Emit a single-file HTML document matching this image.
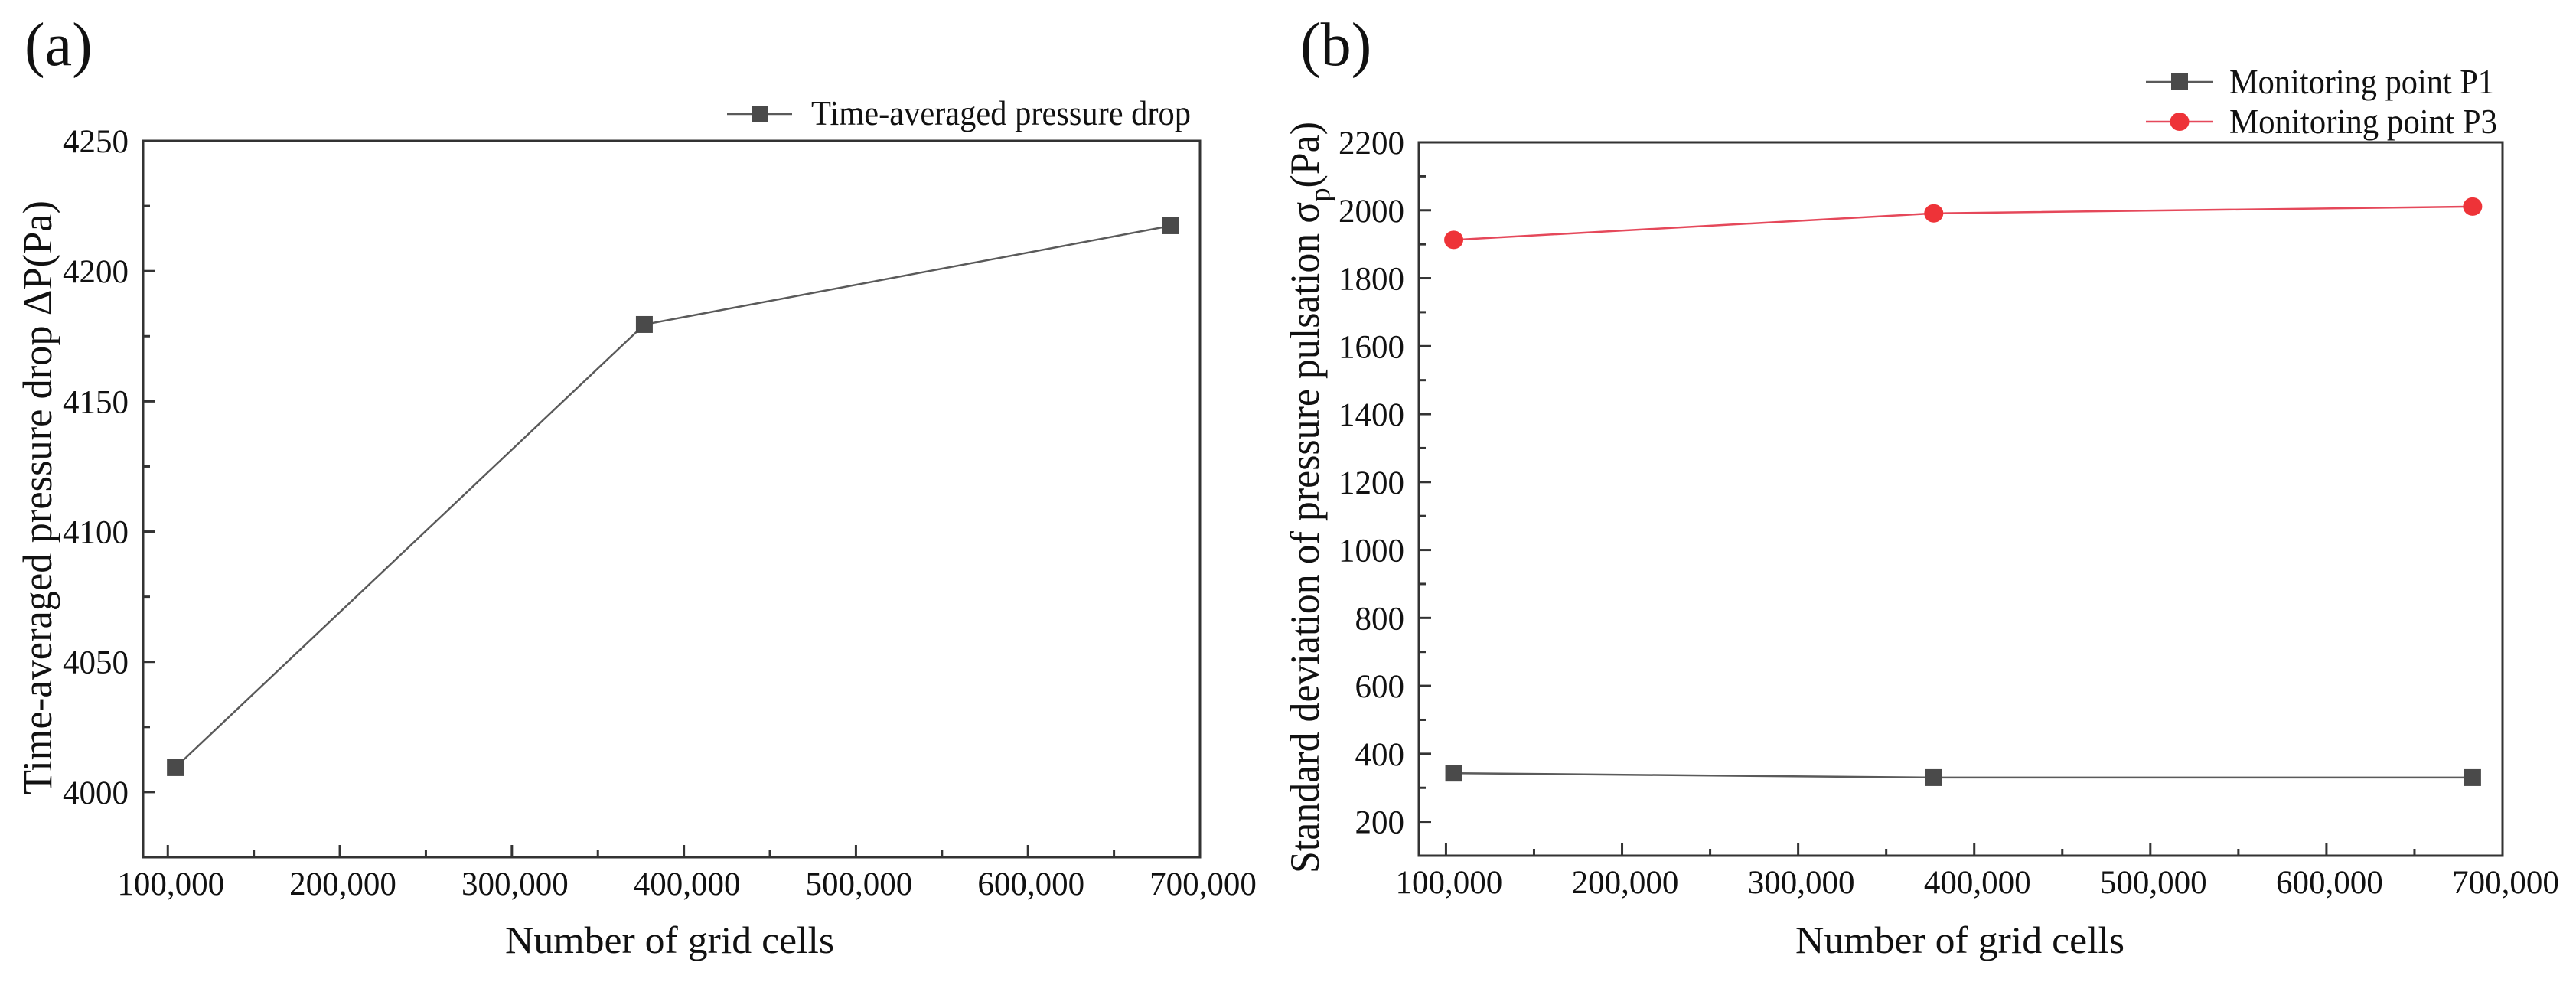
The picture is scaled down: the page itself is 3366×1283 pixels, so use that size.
<!DOCTYPE html>
<html><head><meta charset="utf-8"><style>
html,body{margin:0;padding:0;background:#fff;}
svg{display:block;font-family:"Liberation Serif",serif;}
</style></head><body>
<svg id="fig" width="3366" height="1283" viewBox="0 0 3366 1283" xmlns="http://www.w3.org/2000/svg">
<rect width="3366" height="1283" fill="#fff"/>
<g id="pa"></g>
<g id="pb"></g>
</svg>
<script>
const xCells = [104400, 377000, 683000];
const aPressureDrop = [4009.4, 4179.5, 4217.4];
const bP1 = [343, 330, 330];
const bP3 = [1913, 1991, 2011];
const xTicks = [100000, 200000, 300000, 400000, 500000, 600000, 700000];
const xTickLabels = ["100,000","200,000","300,000","400,000","500,000","600,000","700,000"];
const aYTicks = [4000, 4050, 4100, 4150, 4200, 4250];
const aYTickLabels = ["4000","4050","4100","4150","4200","4250"];
const bYTicks = [200,400,600,800,1000,1200,1400,1600,1800,2000,2200];
const bYTickLabels = ["200","400","600","800","1000","1200","1400","1600","1800","2000","2200"];

const NS = "http://www.w3.org/2000/svg";
function mk(parent, tag, attrs, text) {
  const e = document.createElementNS(NS, tag);
  for (const k in attrs) e.setAttribute(k, attrs[k]);
  if (text !== undefined) e.textContent = text;
  parent.appendChild(e);
  return e;
}
function lin(d0, d1, r0, r1) { return v => r0 + (v - d0) / (d1 - d0) * (r1 - r0); }

function drawAxes(g, box, sx, sy, yTicks, yLabels, xMinorStep, yMinorStep, xdom, ydom) {
  const ax = "#333";
  // frame
  const fr = mk(g, "rect", {x: box.l, y: box.t, width: box.r - box.l, height: box.b - box.t, fill: "none", stroke: ax, "stroke-width": 3});
  
  
  // x ticks
  xTicks.forEach((v, i) => {
    const x = sx(v);
    const t = mk(g, "line", {x1: x, x2: x, y1: box.b, y2: box.b - 16, stroke: ax, "stroke-width": 3});
    
    
    const lb = mk(g, "text", {x: x + 4, y: box.b + 49, "font-size": 43, "text-anchor": "middle", fill: "#111"}, xTickLabels[i]);
    
    
  });
  for (let v = xTicks[0] + xMinorStep; v < xdom[1]; v += 2 * xMinorStep) {
    const x = sx(v);
    const t = mk(g, "line", {x1: x, x2: x, y1: box.b, y2: box.b - 9, stroke: ax, "stroke-width": 3});
    
    
  }
  yTicks.forEach((v, i) => {
    const y = sy(v);
    const t = mk(g, "line", {x1: box.l, x2: box.l + 16, y1: y, y2: y, stroke: ax, "stroke-width": 3});
    
    
    const lb = mk(g, "text", {x: box.l - 19, y: y + 15, "font-size": 43, "text-anchor": "end", fill: "#111"}, yLabels[i]);
    
    
  });
  for (let v = yTicks[0] - yMinorStep; v < ydom[1]; v += 2 * yMinorStep) {
    if (v <= ydom[0]) continue;
    const y = sy(v);
    const t = mk(g, "line", {x1: box.l, x2: box.l + 9, y1: y, y2: y, stroke: ax, "stroke-width": 3});
    
    
  }
}

function series(g, sx, sy, ys, color, lineColor, shape, name) {
  const pts = xCells.map((x, i) => sx(x).toFixed(1) + "," + sy(ys[i]).toFixed(1)).join(" ");
  const pl = mk(g, "polyline", {points: pts, fill: "none", stroke: lineColor, "stroke-width": 2.5});
  
  
  xCells.forEach((x, i) => {
    let m;
    if (shape === "square") m = mk(g, "rect", {x: sx(x) - 11, y: sy(ys[i]) - 11, width: 22, height: 22, fill: color});
    else m = mk(g, "ellipse", {cx: sx(x), cy: sy(ys[i]), rx: 12.5, ry: 12, fill: color});
    
    
  });
}

// Panel A
(function(){
  const g = document.getElementById("pa");
  const box = {l: 187, r: 1568, t: 184, b: 1120};
  const xdom = [85650, 700000], ydom = [3975, 4250];
  const sx = lin(xdom[0], xdom[1], box.l, box.r);
  const sy = lin(ydom[0], ydom[1], box.b, box.t);
  drawAxes(g, box, sx, sy, aYTicks, aYTickLabels, 50000, 25, xdom, ydom);
  series(g, sx, sy, aPressureDrop, "#4a4a4a", "#5a5a5a", "square", "pressure-drop");
  const lbl = mk(g, "text", {x: 32, y: 85, "font-size": 80, fill: "#111"}, "(a)");
  
  
  const xt = mk(g, "text", {x: 660, y: 1245, "font-size": 50, fill: "#111", textLength: 430, lengthAdjust: "spacingAndGlyphs"}, "Number of grid cells");
  
  
  const yt = mk(g, "text", {x: 0, y: 0, "font-size": 54, fill: "#111", transform: "translate(67,1038) rotate(-90)", textLength: 776, lengthAdjust: "spacingAndGlyphs"}, "Time-averaged pressure drop \u0394P(Pa)");
  
  
  const lg = mk(g, "g", {});
  
  
  mk(lg, "line", {x1: 950, x2: 1035, y1: 149, y2: 149, stroke: "#5a5a5a", "stroke-width": 2.5});
  mk(lg, "rect", {x: 982, y: 138, width: 22, height: 22, fill: "#4a4a4a"});
  mk(lg, "text", {x: 1060, y: 163, "font-size": 46, fill: "#111", textLength: 496, lengthAdjust: "spacingAndGlyphs"}, "Time-averaged pressure drop");
})();

// Panel B
(function(){
  const g = document.getElementById("pb");
  const box = {l: 1854, r: 3270, t: 186, b: 1118};
  const xdom = [84600, 700000], ydom = [100, 2200];
  const sx = lin(xdom[0], xdom[1], box.l, box.r);
  const sy = lin(ydom[0], ydom[1], box.b, box.t);
  drawAxes(g, box, sx, sy, bYTicks, bYTickLabels, 50000, 100, xdom, ydom);
  series(g, sx, sy, bP1, "#4a4a4a", "#5a5a5a", "square", "p1");
  series(g, sx, sy, bP3, "#ee3338", "#e5485a", "circle", "p3");
  const lbl = mk(g, "text", {x: 1699, y: 85, "font-size": 80, fill: "#111"}, "(b)");
  
  
  const xt = mk(g, "text", {x: 2346, y: 1245, "font-size": 50, fill: "#111", textLength: 430, lengthAdjust: "spacingAndGlyphs"}, "Number of grid cells");
  
  
  const yt = mk(g, "text", {x: 0, y: 0, "font-size": 54, fill: "#111", transform: "translate(1723,1141) rotate(-90)"});
  
  
  const t1 = mk(yt, "tspan", {}, "Standard deviation of pressure pulsation \u03c3");
  const t2 = mk(yt, "tspan", {dy: 14, "font-size": 38}, "p");
  const t3 = mk(yt, "tspan", {dy: -14}, "(Pa)");
  yt.setAttribute('textLength', 982);
  yt.setAttribute('lengthAdjust', 'spacingAndGlyphs');
  const l1 = mk(g, "g", {});
  
  
  mk(l1, "line", {x1: 2804, x2: 2892, y1: 107, y2: 107, stroke: "#5a5a5a", "stroke-width": 2.5});
  mk(l1, "rect", {x: 2837, y: 96, width: 22, height: 22, fill: "#4a4a4a"});
  mk(l1, "text", {x: 2913, y: 122, "font-size": 45, fill: "#111", textLength: 346, lengthAdjust: "spacingAndGlyphs"}, "Monitoring point P1");
  const l2 = mk(g, "g", {});
  
  
  mk(l2, "line", {x1: 2804, x2: 2892, y1: 159, y2: 159, stroke: "#e5485a", "stroke-width": 2.5});
  mk(l2, "ellipse", {cx: 2848, cy: 159, rx: 12.5, ry: 12, fill: "#ee3338"});
  mk(l2, "text", {x: 2913, y: 174, "font-size": 45, fill: "#111", textLength: 350, lengthAdjust: "spacingAndGlyphs"}, "Monitoring point P3");
})();
</script>
</body></html>
